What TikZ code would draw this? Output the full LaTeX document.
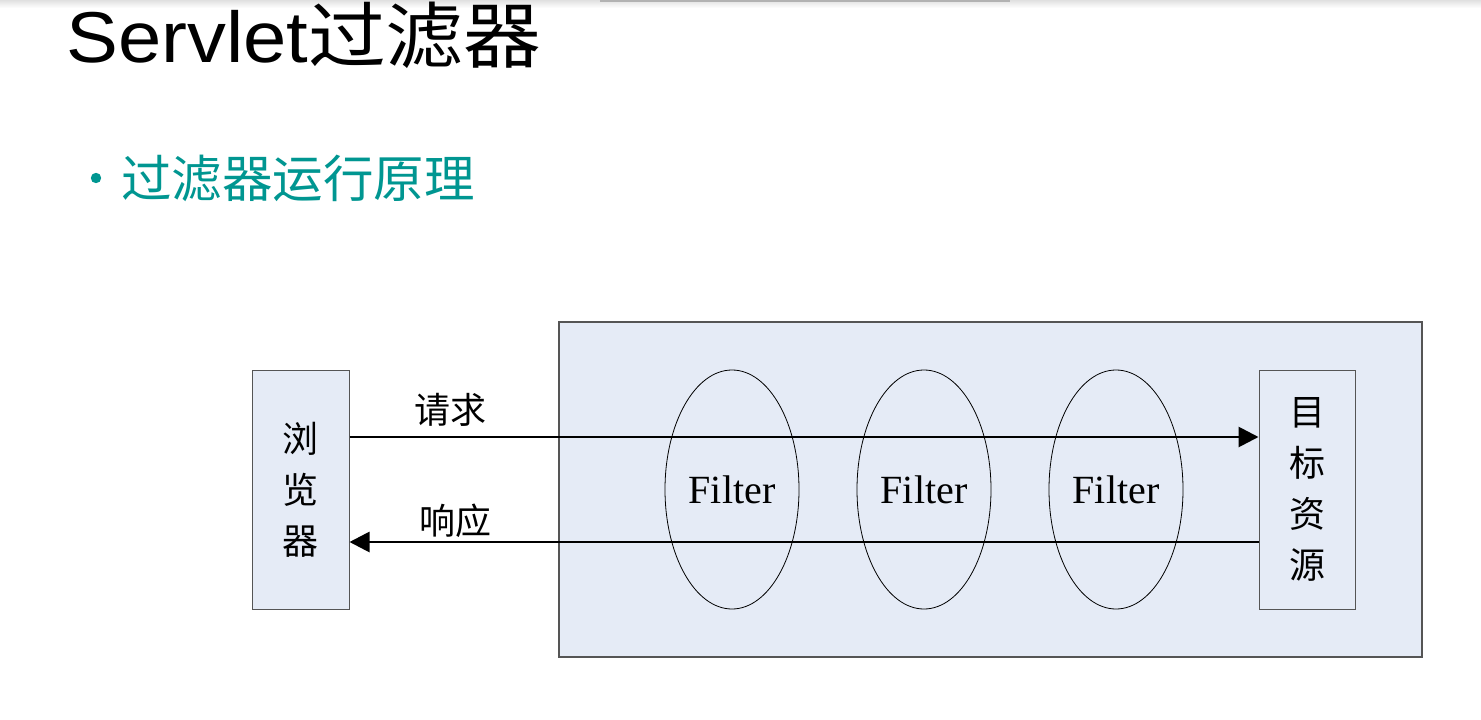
\documentclass[tikz,border=0pt]{standalone}
\usepackage{fontspec}
\setmainfont{Liberation Serif}
\newfontfamily\cjk{Noto Sans CJK SC}
\newfontfamily\arialf{Liberation Sans}
\usetikzlibrary{arrows.meta,calc,shapes.geometric}
\definecolor{boxfill}{HTML}{E5EBF6}
\definecolor{boxline}{HTML}{555555}
\definecolor{teal1}{RGB}{0,150,145}
\begin{document}
\begin{tikzpicture}[x=1pt,y=-1pt,
  panel/.style={draw=boxline,line width=1.2pt,fill=boxfill},
  endbox/.style={draw=boxline,line width=1pt,fill=boxfill,minimum width=97pt,minimum height=239pt,inner sep=0pt,align=center,font=\cjk\fontsize{36}{51}\selectfont},
  filt/.style={draw,ellipse,line width=0.8pt,minimum width=134pt,minimum height=239pt,inner sep=0pt,font=\fontsize{40}{44}\selectfont},
  arr/.style={line width=2.8pt,-{Triangle[length=20pt,width=20pt]}},
  lab/.style={font=\cjk\fontsize{36}{40}\selectfont,inner sep=0pt}]
\useasboundingbox (0,0) rectangle (1481,720);
\fill[white] (0,0) rectangle (1481,720);
\shade[top color=black!12,bottom color=white] (0,0) rectangle (1481,8);
\fill[black!30] (600,0) rectangle (1010,1.5);
% title
\node[anchor=base west,inner sep=0pt,xscale=1.08,font=\arialf\fontsize{72}{80}\selectfont] (title) at (66,62) {Servlet{\cjk 过滤器}};
% bullet
\fill[teal1] (96,178) circle (5.2);
\node[anchor=west,inner sep=0pt,text=teal1,font=\cjk\fontsize{50.5}{54}\selectfont] (sub) at (121,178) {过滤器运行原理};
% panel
\draw[panel] (559,322) rectangle (1422,657);
\node[endbox] (browser) at (300.5,489.5) {浏\\览\\器};
\node[endbox,minimum width=96pt] (target) at (1307,489.5) {目\\标\\资\\源};
\node[filt] (f1) at (732,489.5) {Filter};
\node[filt] (f2) at (924,489.5) {Filter};
\node[filt] (f3) at (1116,489.5) {Filter};
\coordinate (req) at (0,437);
\coordinate (res) at (0,542);
\draw[arr] (browser.east |- req) -- (target.west |- req);
\draw[arr] (target.west |- res) -- (browser.east |- res);
\node[lab] (lreq) at (450,410) {请求};
\node[lab] (lres) at (455,521) {响应};
\end{tikzpicture}
\end{document}
